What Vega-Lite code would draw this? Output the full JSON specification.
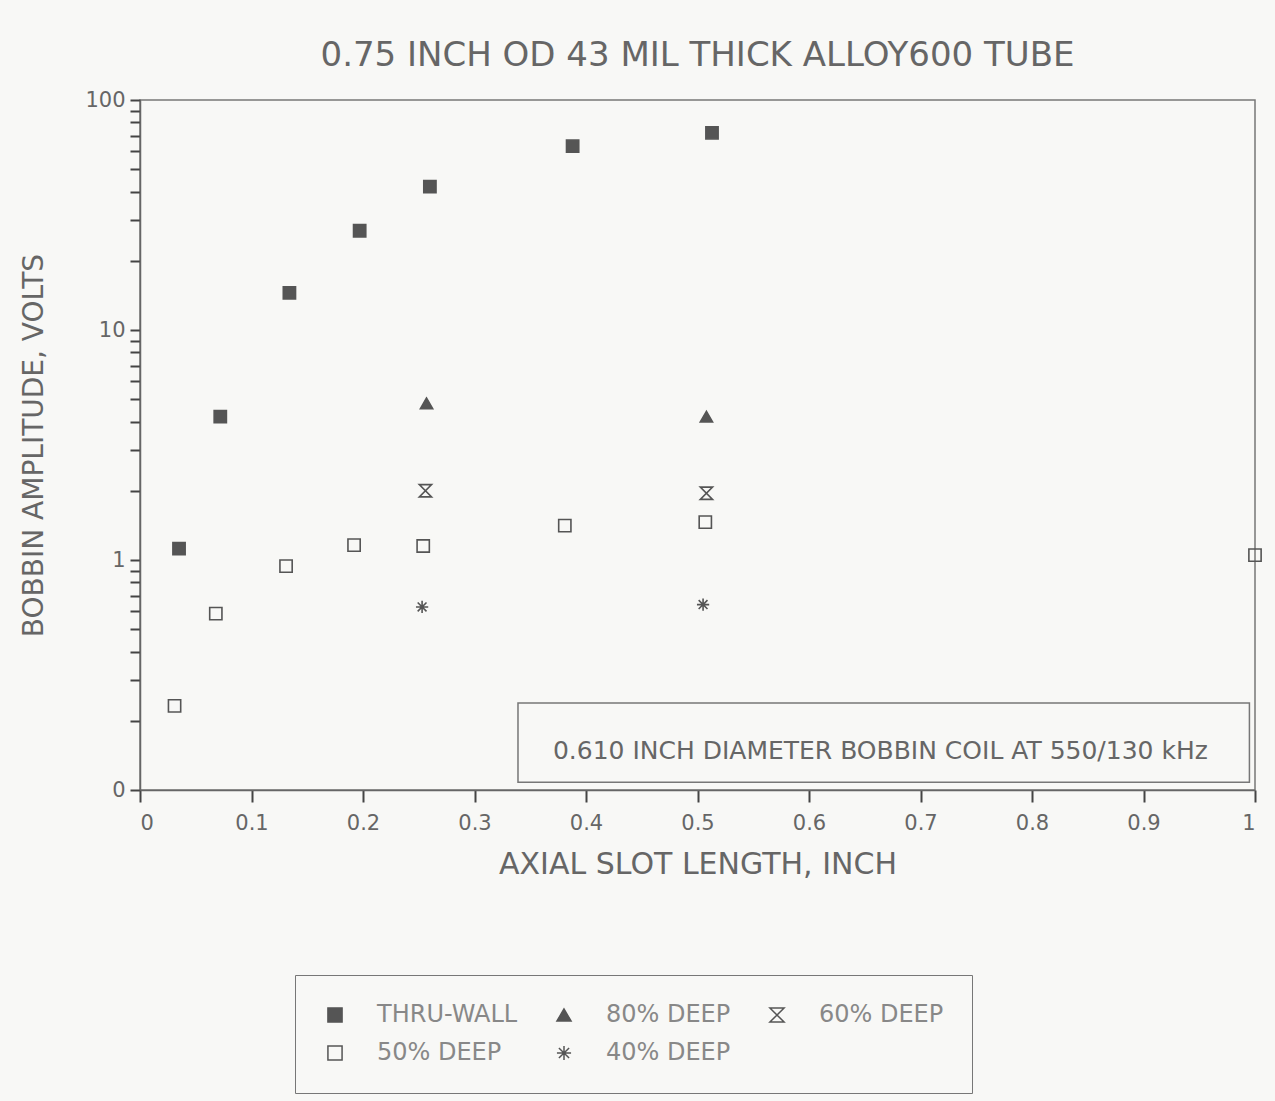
{
  "$schema": "https://vega.github.io/schema/vega-lite/v6.json",
  "width": 1115,
  "height": 690,
  "autosize": "none",
  "padding": {"left": 140, "top": 100, "right": 20, "bottom": 311},
  "background": "#f8f8f6",
  "config": {
    "font": "DejaVu Sans",
    "view": {"stroke": "#777", "strokeWidth": 1.5},
    "axis": {"ticks": true, "tickColor": "#444", "tickWidth": 2, "tickOpacity": 1, "grid": false, "zindex": 1}
  },
  "title": {"text": "0.75 INCH OD 43 MIL THICK ALLOY600 TUBE", "font": "DejaVu Sans", "fontSize": 34, "fontWeight": "normal", "color": "#666", "offset": 16, "anchor": "middle"},
  "data": {
    "values": [
      {"series": "THRU-WALL", "x": 0.035, "y": 1.12},
      {"series": "THRU-WALL", "x": 0.072, "y": 4.2},
      {"series": "THRU-WALL", "x": 0.134, "y": 14.5},
      {"series": "THRU-WALL", "x": 0.197, "y": 27},
      {"series": "THRU-WALL", "x": 0.26, "y": 42},
      {"series": "THRU-WALL", "x": 0.388, "y": 63},
      {"series": "THRU-WALL", "x": 0.513, "y": 72},
      {"series": "80% DEEP", "x": 0.257, "y": 4.8},
      {"series": "80% DEEP", "x": 0.508, "y": 4.2},
      {"series": "60% DEEP", "x": 0.256, "y": 2.0},
      {"series": "60% DEEP", "x": 0.508, "y": 1.95},
      {"series": "50% DEEP", "x": 0.031, "y": 0.232},
      {"series": "50% DEEP", "x": 0.068, "y": 0.585},
      {"series": "50% DEEP", "x": 0.131, "y": 0.94},
      {"series": "50% DEEP", "x": 0.192, "y": 1.16},
      {"series": "50% DEEP", "x": 0.254, "y": 1.15},
      {"series": "50% DEEP", "x": 0.381, "y": 1.41},
      {"series": "50% DEEP", "x": 0.507, "y": 1.46},
      {"series": "50% DEEP", "x": 1.0, "y": 1.05},
      {"series": "40% DEEP", "x": 0.253, "y": 0.625},
      {"series": "40% DEEP", "x": 0.505, "y": 0.64}
    ]
  },
  "layer": [
    {
      "mark": {"type": "point", "filled": false, "stroke": "#555", "strokeWidth": 1.6, "size": 150, "opacity": 1, "fillOpacity": 1},
      "encoding": {
        "x": {
          "field": "x", "type": "quantitative",
          "scale": {"domain": [0, 1], "nice": false, "zero": false},
          "axis": {"title": "AXIAL SLOT LENGTH, INCH", "titleFont": "DejaVu Sans", "titleFontWeight": "normal", "titleColor": "#666", "titleFontSize": 30, "titlePadding": 16, "labelFont": "DejaVu Sans", "labelColor": "#666", "labelFontSize": 21, "labelPadding": 10, "tickCount": 10, "format": "~g", "grid": false, "domainColor": "#666", "domainWidth": 1.5, "ticks": true, "tickSize": 12, "tickWidth": 2, "tickColor": "#444"}
        },
        "y": {
          "field": "y", "type": "quantitative",
          "scale": {"type": "log", "domain": [0.1, 100], "nice": false},
          "axis": {
            "title": "BOBBIN AMPLITUDE, VOLTS", "titleFont": "DejaVu Sans", "titleFontWeight": "normal", "titleColor": "#666", "titleFontSize": 28, "titlePadding": 36, "labelFont": "DejaVu Sans", "labelColor": "#666", "labelFontSize": 21, "labelPadding": 5, "grid": false, "domainColor": "#666", "domainWidth": 1.5, "ticks": true, "tickSize": 10, "tickWidth": 2, "tickColor": "#444",
            "values": [0.1, 0.2, 0.3, 0.4, 0.5, 0.6, 0.7, 0.8, 0.9, 1, 2, 3, 4, 5, 6, 7, 8, 9, 10, 20, 30, 40, 50, 60, 70, 80, 90, 100],
            "labelExpr": "datum.value == 100 ? '100' : datum.value == 10 ? '10' : datum.value == 1 ? '1' : (datum.value > 0.09 && datum.value < 0.11) ? '0' : ''"
          }
        },
        "shape": {
          "field": "series", "type": "nominal",
          "scale": {
            "domain": ["THRU-WALL", "80% DEEP", "60% DEEP", "50% DEEP", "40% DEEP"],
            "range": ["square", "triangle-up", "M-1,-1H1L-1,1H1Z", "square", "M-1,0H1M0,-1V1M-0.72,-0.72L0.72,0.72M-0.72,0.72L0.72,-0.72"]
          },
          "legend": {
            "title": null, "orient": "none", "legendX": 155, "legendY": 875, "direction": "horizontal", "columns": 3,
            "columnPadding": 34, "rowPadding": 14, "padding": 28, "strokeColor": "#777", "labelFontSize": 24, "labelFont": "DejaVu Sans", "labelColor": "#888",
            "symbolSize": 200, "labelOffset": 30,
            "encode": {"symbols": {"update": {"stroke": {"value": "#555"}, "strokeWidth": {"value": 1.6}}}}
          }
        },
        "fill": {
          "field": "series", "type": "nominal",
          "scale": {
            "domain": ["THRU-WALL", "80% DEEP", "60% DEEP", "50% DEEP", "40% DEEP"],
            "range": ["#555", "#555", "transparent", "transparent", "#555"]
          },
          "legend": {
            "title": null, "orient": "none", "legendX": 155, "legendY": 875, "direction": "horizontal", "columns": 3,
            "columnPadding": 34, "rowPadding": 14, "padding": 28, "strokeColor": "#777", "labelFontSize": 24, "labelFont": "DejaVu Sans", "labelColor": "#888",
            "symbolSize": 200, "labelOffset": 30,
            "encode": {"symbols": {"update": {"stroke": {"value": "#555"}, "strokeWidth": {"value": 1.6}}}}
          }
        }
      }
    },
    {
      "data": {"values": [{}]},
      "mark": {"type": "rect", "fill": "transparent", "stroke": "#777", "strokeWidth": 1.5},
      "encoding": {
        "x": {"datum": 0.339, "type": "quantitative"},
        "x2": {"datum": 0.995},
        "y": {"datum": 0.108, "type": "quantitative"},
        "y2": {"datum": 0.239}
      }
    },
    {
      "data": {"values": [{}]},
      "mark": {"type": "text", "fontSize": 25, "font": "DejaVu Sans", "color": "#666", "align": "center", "baseline": "middle"},
      "encoding": {
        "x": {"datum": 0.664, "type": "quantitative"},
        "y": {"datum": 0.148, "type": "quantitative"},
        "text": {"value": "0.610 INCH DIAMETER BOBBIN COIL AT 550/130 kHz"}
      }
    }
  ]
}
